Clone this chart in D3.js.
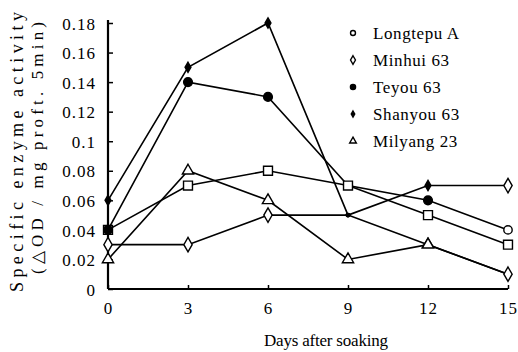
<!DOCTYPE html>
<html>
<head>
<meta charset="utf-8">
<script src="https://cdn.jsdelivr.net/npm/d3@7"></script>
<style>
  body { margin: 0; background: #fff; }
  svg text { font-family: "Liberation Serif", "Times New Roman", serif !important; fill: #000; }
</style>
</head>
<body>
<script>
// data
let days = [0, 3, 6, 9, 12, 15];
let seriesNames = ["Longtepu A", "Minhui 63", "Teyou 63", "Shanyou 63", "Milyang 23"];
let longtepu = [0.04, 0.07, 0.08, 0.07, 0.05, 0.03];
let minhui = [0.03, 0.03, 0.05, 0.05, 0.03, 0.01];
let teyou = [0.04, 0.14, 0.13, 0.07, 0.06, 0.04];
let shanyou = [0.06, 0.15, 0.18, 0.05, 0.07, 0.07];
let milyang = [0.02, 0.08, 0.06, 0.02, 0.03, 0.01];
let yTicks = [0, 0.02, 0.04, 0.06, 0.08, 0.1, 0.12, 0.14, 0.16, 0.18];
let yTickLabels = ["0", "0.02", "0.04", "0.06", "0.08", "0.1", "0.12", "0.14", "0.16", "0.18"];

// marker per point (the scan uses a different one at some ends)
let markers = [
  ["square", "square", "square", "square", "square", "square"],
  ["diamond", "diamond", "diamond", "dot", "triangle", "diamond"],
  ["circle", "circle", "circle", "none", "circle", "ocircle"],
  ["sdiamond", "sdiamond", "sdiamond", "dot", "sdiamond", "diamond"],
  ["triangle", "triangle", "triangle", "triangle", "triangle", "none"]
];
let allValues = [longtepu, minhui, teyou, shanyou, milyang];

let width = 518, height = 352;
let fontFam = "Liberation Serif";

let svg = d3.select("body").append("svg")
  .attr("width", width)
  .attr("height", height);

let xScale = d3.scaleLinear().domain([0, 15]).range([108, 508]);
let yScale = d3.scaleLinear().domain([0, 0.18]).range([289, 23]);

// axes
let xAxis = d3.axisBottom(xScale).tickValues(days).tickSize(-4).tickPadding(13).tickFormat(d3.format("d"));
let xAxisG = svg.append("g").attr("transform", `translate(0, ${yScale(0)})`).call(xAxis);
let yAxis = d3.axisLeft(yScale).tickValues(yTicks).tickSize(-5).tickPadding(12)
  .tickFormat((d, i) => yTickLabels[i]);
let yAxisG = svg.append("g").attr("transform", `translate(${xScale(0)}, 0)`).call(yAxis);

[xAxisG, yAxisG].forEach(g => {
  g.attr("font-family", fontFam);
  g.select(".domain").attr("stroke", "#000").attr("stroke-width", 2.2);
  g.selectAll(".tick line").attr("stroke", "#000").attr("stroke-width", 1.5);
  g.selectAll(".tick text")
    .style("font-family", fontFam)
    .style("font-size", "17px")
    .style("letter-spacing", "1px");
});
yAxisG.selectAll(".tick text").attr("dy", "0.36em");
xAxisG.select(".domain").attr("d", `M${xScale(0)},0H${xScale(15)}`);
yAxisG.select(".domain").attr("d", `M0,${yScale(0)}V${yScale(0.18) - 3}`);

// lines
let line = d3.line().x((d, i) => xScale(days[i])).y(d => yScale(d));
let lineG = svg.append("g");
allValues.forEach(vals => {
  lineG.append("path")
    .attr("d", line(vals))
    .attr("fill", "none")
    .attr("stroke", "#000")
    .attr("stroke-width", 1.6);
});

// markers
function drawMarker(g, type, x, y, scale) {
  scale = scale || 1;
  let sym = null, fill = "#fff", size = 0;
  if (type === "square") { sym = d3.symbolSquare; size = 80; }
  else if (type === "diamond") { sym = d3.symbolDiamond; size = 60; }
  else if (type === "sdiamond") { sym = d3.symbolDiamond; size = 30; fill = "#000"; }
  else if (type === "circle") { sym = d3.symbolCircle; size = 60; fill = "#000"; }
  else if (type === "ocircle") { sym = d3.symbolCircle; size = 55; }
  else if (type === "triangle") { sym = d3.symbolTriangle; size = 55; }
  else if (type === "dot") { sym = d3.symbolCircle; size = 10; fill = "#000"; }
  if (!sym) return;
  g.append("path")
    .attr("d", d3.symbol().type(sym).size(size * scale)())
    .attr("transform", `translate(${x}, ${y})`)
    .attr("fill", fill)
    .attr("stroke", "#000")
    .attr("stroke-width", 1.4);
}
let markG = svg.append("g");
allValues.forEach((vals, s) => {
  vals.forEach((v, i) => drawMarker(markG, markers[s][i], xScale(days[i]), yScale(v)));
});

// legend
let legendSyms = ["ocircle", "diamond", "circle", "sdiamond", "triangle"];
let legend = svg.append("g").attr("transform", "translate(353, 33)");
seriesNames.forEach((name, i) => {
  drawMarker(legend, legendSyms[i], 0, i * 27, 0.35);
  legend.append("text")
    .attr("x", 20).attr("y", i * 27)
    .attr("dy", "0.35em")
    .style("font-family", fontFam)
    .style("font-size", "17px")
    .style("letter-spacing", "0.6px")
    .text(name);
});

// axis labels
svg.append("text")
  .attr("x", 326).attr("y", 346)
  .attr("text-anchor", "middle")
  .attr("textLength", 124).attr("lengthAdjust", "spacing")
  .style("font-family", fontFam)
  .style("font-size", "17px")
  .text("Days after soaking");

svg.append("text")
  .attr("transform", "translate(23, 152) rotate(-90)")
  .attr("text-anchor", "middle")
  .attr("textLength", 280).attr("lengthAdjust", "spacing")
  .style("font-family", fontFam)
  .style("font-size", "18px")
  .text("Specific enzyme activity");
svg.append("text")
  .attr("transform", "translate(43, 148) rotate(-90)")
  .attr("text-anchor", "middle")
  .attr("textLength", 252).attr("lengthAdjust", "spacing")
  .style("font-family", fontFam)
  .style("font-size", "17px")
  .text("(△OD / mg proft. 5min)");
</script>
</body>
</html>
